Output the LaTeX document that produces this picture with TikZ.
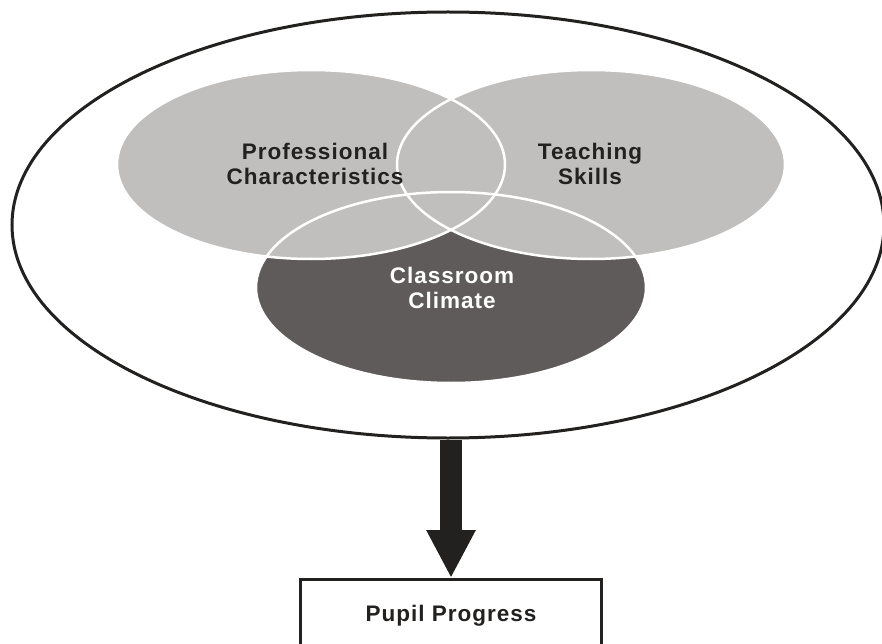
\documentclass[tikz,border=0pt]{standalone}
\usepackage{fontspec}
\setmainfont{Liberation Sans}
\newfontfamily\labelfont[LetterSpace=4.5]{Liberation Sans}
\usetikzlibrary{shapes.geometric,arrows.meta}
\definecolor{venngrey}{HTML}{C0BFBD}
\definecolor{climategrey}{HTML}{5F5B5A}
\definecolor{inkblack}{HTML}{23211F}
\tikzset{
  vennset/.style={ellipse, inner sep=0pt},
  vennrim/.style={ellipse, inner sep=0pt, draw=white, line width=2.5pt},
  vennlabel/.style={font=\labelfont\bfseries\fontsize{22.5}{25}\selectfont, align=center, text=inkblack}
}
\begin{document}
\begin{tikzpicture}[x=1pt,y=-1pt]
      \useasboundingbox (0,0) rectangle (882,644);
      \node[ellipse, draw=inkblack, line width=3pt, inner sep=0pt,
            minimum width=872pt, minimum height=426pt] (outer) at (448,225) {};

      % the three sets, filled first and rimmed afterwards
      \foreach \n/\x/\y/\w/\h/\c in {climate/451/287.5/390/191/climategrey,
                                   prof/311/164.5/388/189/venngrey,
                                   teach/591/164.5/388/189/venngrey}
      {
          \node[vennset, fill=\c, minimum width=\w pt, minimum height=\h pt] (\n) at (\x,\y) {};
      }
      \foreach \n/\w/\h in {climate/390/191, prof/388/189, teach/388/189}
      {
          \node[vennrim, minimum width=\w pt, minimum height=\h pt] (\n rim) at (\n) {};
      }

      \node[vennlabel] (proflabel) at (315,164) {Professional\\Characteristics};
      \node[vennlabel] (teachlabel) at (590,164) {Teaching\\Skills};
      \node[vennlabel, text=white] (climatelabel) at (452,287.5) {Classroom\\Climate};

      \node[draw=inkblack, line width=3pt, anchor=north, minimum width=301pt, minimum height=72pt,
            vennlabel] (progress) at (451,578) {Pupil Progress};

      \draw[inkblack, line width=22pt, -{Triangle[width=46pt, length=48pt]}]
          (progress.north |- outer.south) -- (progress.north);
\end{tikzpicture}
\end{document}
